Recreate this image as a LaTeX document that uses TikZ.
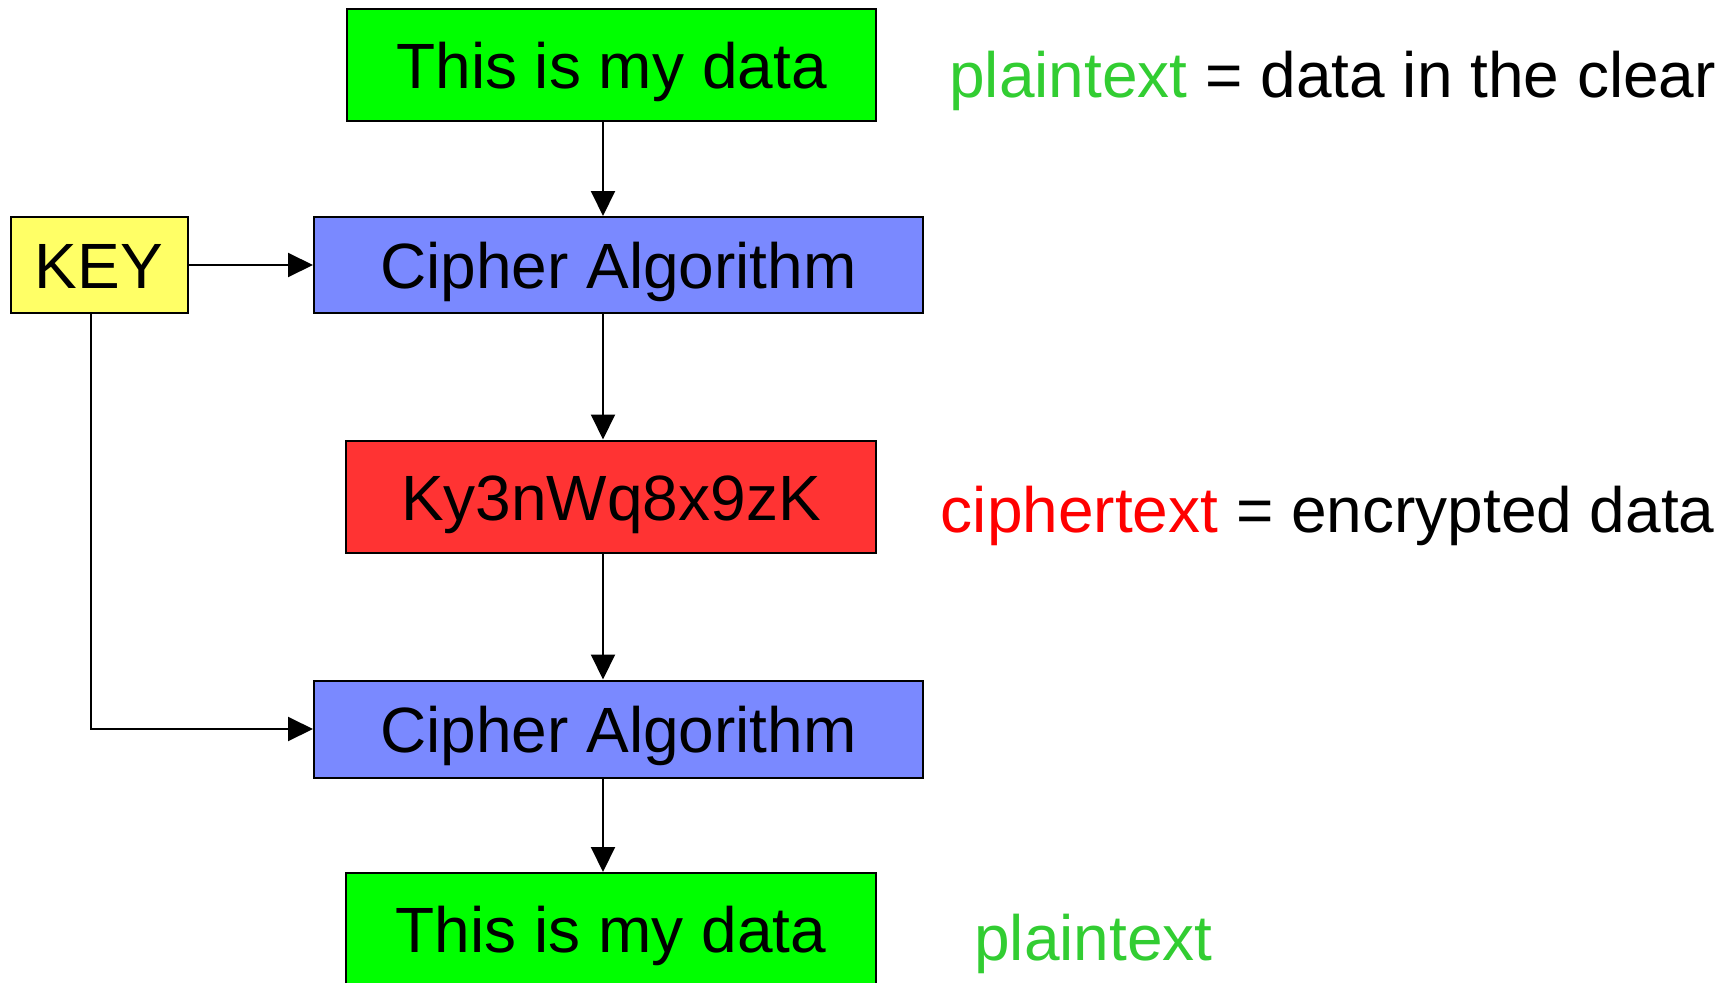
\documentclass[tikz,border=0pt]{standalone}
\usepackage{fontspec}
\setmainfont{Liberation Sans}
\usetikzlibrary{arrows.meta}
\definecolor{plaingreen}{RGB}{0,255,0}
\definecolor{cipherblue}{RGB}{122,137,255}
\definecolor{cipherred}{RGB}{255,51,51}
\definecolor{keyyellow}{RGB}{255,255,102}
\definecolor{labelgreen}{RGB}{50,205,50}
\definecolor{labelred}{RGB}{255,0,0}
\tikzset{
  box/.style={draw=black, line width=2pt, rectangle, inner sep=0pt,
    text height=47pt, text depth=0pt,
    font=\fontsize{64}{77}\selectfont},
  conn/.style={line width=2pt, -{Triangle[length=25pt,width=24pt]}},
  note/.style={anchor=base west, inner sep=0pt, font=\fontsize{64}{77}\selectfont}
}
\begin{document}
\begin{tikzpicture}[x=1pt,y=-1pt]
  \useasboundingbox (0,0) rectangle (1731,982);

  % boxes
  \node[box, fill=plaingreen, minimum width=529pt, minimum height=112pt] (plainA) at (611.5,65) {This is my data};
  \node[box, fill=keyyellow, minimum width=177pt, minimum height=96pt] (key) at (99,265) {KEY};
  \node[box, fill=cipherblue, minimum width=609pt, minimum height=96pt] (algA) at (618.5,265) {Cipher Algorithm};
  \node[box, fill=cipherred, minimum width=530pt, minimum height=112pt] (cipher) at (611,496.5) {Ky3nWq8x9zK};
  \node[box, fill=cipherblue, minimum width=609pt, minimum height=97pt] (algB) at (618.5,729) {Cipher Algorithm};
  \node[box, fill=plaingreen, minimum width=530pt, minimum height=112pt] (plainB) at (611,929) {This is my data};

  % guide lines for the vertical flow and the key branch
  \coordinate (flowx) at (603,0);
  \coordinate (keyx) at (90.6,0);

  % connectors
  \draw[conn] (plainA.south -| flowx) -- (algA.north -| flowx);
  \draw[conn] (algA.south -| flowx) -- (cipher.north -| flowx);
  \draw[conn] (cipher.south -| flowx) -- (algB.north -| flowx);
  \draw[conn] (algB.south -| flowx) -- (plainB.north -| flowx);
  \draw[conn] (key.east) -- (algA.west);
  \draw[conn] (key.south -| keyx) |- (algB.west);

  % side notes
  \node[note] (noteA) at (949,97) {\textcolor{labelgreen}{plaintext} = data in the clear};
  \node[note] (noteB) at (940.6,532) {\textcolor{labelred}{ciphertext} = encrypted data};
  \node[note] (noteC) at (974,960) {\textcolor{labelgreen}{plaintext}};
\end{tikzpicture}
\end{document}
